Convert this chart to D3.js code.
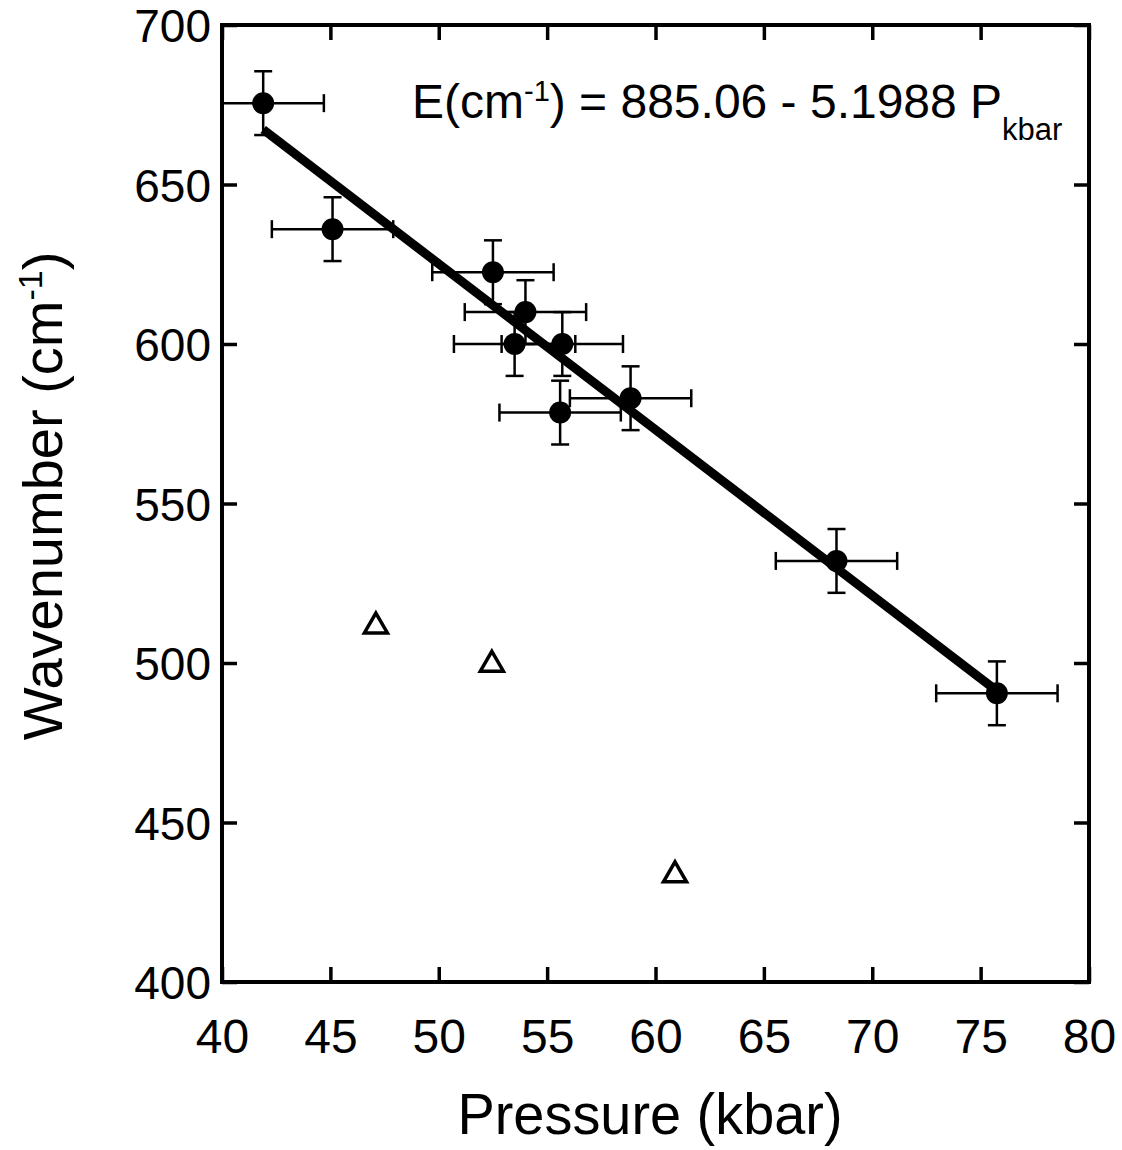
<!DOCTYPE html>
<html>
<head>
<meta charset="utf-8">
<script src="https://cdn.jsdelivr.net/npm/d3@7"></script>
<style>
  body { margin: 0; background: #fff; }
  text { font-family: "Liberation Sans", Arial, Helvetica, sans-serif; fill: #000; }
</style>
</head>
<body>
<div id="chart"></div>
<script>
// measured points (filled circles, with error bars)
var pressure   = [41.9, 45.1, 52.5, 54.0, 53.5, 55.7, 55.6, 58.85, 68.35, 75.75];
var wavenumber = [675.5, 636, 622.5, 610, 600, 600, 578.5, 583, 532, 490.5];
var pressureErr = 2.8;
var waveErr = 10;

// open triangles
var triPressure = [47.1, 52.45, 60.9];
var triWave     = [511.5, 499.5, 433.5];

// linear fit E = a + b*P
var fitA = 885.06, fitB = -5.1988;
var fitRange = [41.9, 75.75];

var xTicks = [40, 45, 50, 55, 60, 65, 70, 75, 80];
var yTicks = [400, 450, 500, 550, 600, 650, 700];

var margin = {top: 25, right: 33, bottom: 168, left: 222},
  width = 1122 - margin.left - margin.right,
  height = 1150 - margin.top - margin.bottom;

var svg = d3.select("#chart")
.append("svg")
  .attr("width", 1122)
  .attr("height", 1150)
.append("g")
  .attr("transform", "translate(" + margin.left + "," + margin.top + ")");

var x = d3.scaleLinear().domain([40, 80]).range([0, width]);
var y = d3.scaleLinear().domain([400, 700]).range([height, 0]);

// axes, ticks pointing inward
var tick = 15;
var gx = svg.append("g")
  .attr("transform", "translate(0," + height + ")")
  .call(d3.axisBottom(x).tickValues(xTicks).tickSize(-tick).tickSizeOuter(0).tickPadding(36));
var gy = svg.append("g")
  .call(d3.axisLeft(y).tickValues(yTicks).tickSize(-tick).tickSizeOuter(0).tickPadding(11));
var gt = svg.append("g")
  .call(d3.axisTop(x).tickValues(xTicks).tickSize(-tick).tickSizeOuter(0).tickFormat(""));
var gr = svg.append("g")
  .attr("transform", "translate(" + width + ",0)")
  .call(d3.axisRight(y).tickValues(yTicks).tickSize(-tick).tickSizeOuter(0).tickFormat(""));

[gx, gy, gt, gr].forEach(function(g) {
  g.select(".domain").remove();
  g.selectAll(".tick line").attr("stroke", "#000").attr("stroke-width", 3.5);
  g.selectAll(".tick text").attr("fill", "#000");
});
gy.selectAll(".tick text").style("font-size", "46px").attr("dy", "0.36em");
gx.selectAll(".tick text").style("font-size", "48px").attr("dy", "0.72em");

svg.append("rect")
  .attr("width", width)
  .attr("height", height)
  .attr("fill", "none")
  .attr("stroke", "#000")
  .attr("stroke-width", 4);

// error bars
var cap = 9;
var pts = pressure.map(function(p, i) { return {p: p, w: wavenumber[i]}; });

var eb = svg.append("g").attr("stroke", "#000").attr("stroke-width", 2.5);
pts.forEach(function(d) {
  var x0 = x(Math.max(40, d.p - pressureErr)), x1 = x(d.p + pressureErr);
  var y0 = y(d.w - waveErr), y1 = y(d.w + waveErr);
  eb.append("line").attr("x1", x0).attr("x2", x1).attr("y1", y(d.w)).attr("y2", y(d.w));
  eb.append("line").attr("x1", x(d.p)).attr("x2", x(d.p)).attr("y1", y0).attr("y2", y1);
  if (d.p - pressureErr >= 40)
    eb.append("line").attr("x1", x0).attr("x2", x0).attr("y1", y(d.w) - cap).attr("y2", y(d.w) + cap);
  eb.append("line").attr("x1", x1).attr("x2", x1).attr("y1", y(d.w) - cap).attr("y2", y(d.w) + cap);
  eb.append("line").attr("x1", x(d.p) - cap).attr("x2", x(d.p) + cap).attr("y1", y0).attr("y2", y0);
  eb.append("line").attr("x1", x(d.p) - cap).attr("x2", x(d.p) + cap).attr("y1", y1).attr("y2", y1);
});

// fit line
svg.append("line")
  .attr("x1", x(fitRange[0]))
  .attr("y1", y(fitA + fitB * fitRange[0]))
  .attr("x2", x(fitRange[1]))
  .attr("y2", y(fitA + fitB * fitRange[1]))
  .attr("stroke", "#000")
  .attr("stroke-width", 9);

// filled circles
svg.selectAll("circle.pt")
.data(pts)
.enter()
.append("circle")
  .attr("cx", function(d) { return x(d.p); })
  .attr("cy", function(d) { return y(d.w); })
  .attr("r", 11)
  .attr("fill", "#000");

// open triangles
svg.selectAll("path.tri")
.data(triPressure)
.enter()
.append("path")
  .attr("d", d3.symbol(d3.symbolTriangle, 230))
  .attr("transform", function(d, i) { return "translate(" + x(d) + "," + y(triWave[i]) + ")"; })
  .attr("fill", "none")
  .attr("stroke", "#000")
  .attr("stroke-width", 3.5);

// equation
var eq = svg.append("text")
  .attr("x", 190)
  .attr("y", 93)
  .style("font-size", "48px");
eq.append("tspan").text("E(cm");
eq.append("tspan").attr("dy", -17).style("font-size", "29px").text("-1");
eq.append("tspan").attr("dy", 17).text(") = 885.06 - 5.1988 P");
eq.append("tspan").attr("dy", 22).style("font-size", "31px").text("kbar");

// axis titles
svg.append("text")
  .attr("x", 428)
  .attr("y", height + 152)
  .attr("text-anchor", "middle")
  .attr("textLength", 385)
  .attr("lengthAdjust", "spacingAndGlyphs")
  .style("font-size", "58px")
  .text("Pressure (kbar)");

var yl = svg.append("text")
  .attr("transform", "translate(-160,471) rotate(-90)")
  .attr("text-anchor", "middle")
  .style("font-size", "56px");
yl.append("tspan").text("Wavenumber (cm");
yl.append("tspan").attr("dy", -20).style("font-size", "34px").text("-1");
yl.append("tspan").attr("dy", 20).text(")");
</script>
</body>
</html>
